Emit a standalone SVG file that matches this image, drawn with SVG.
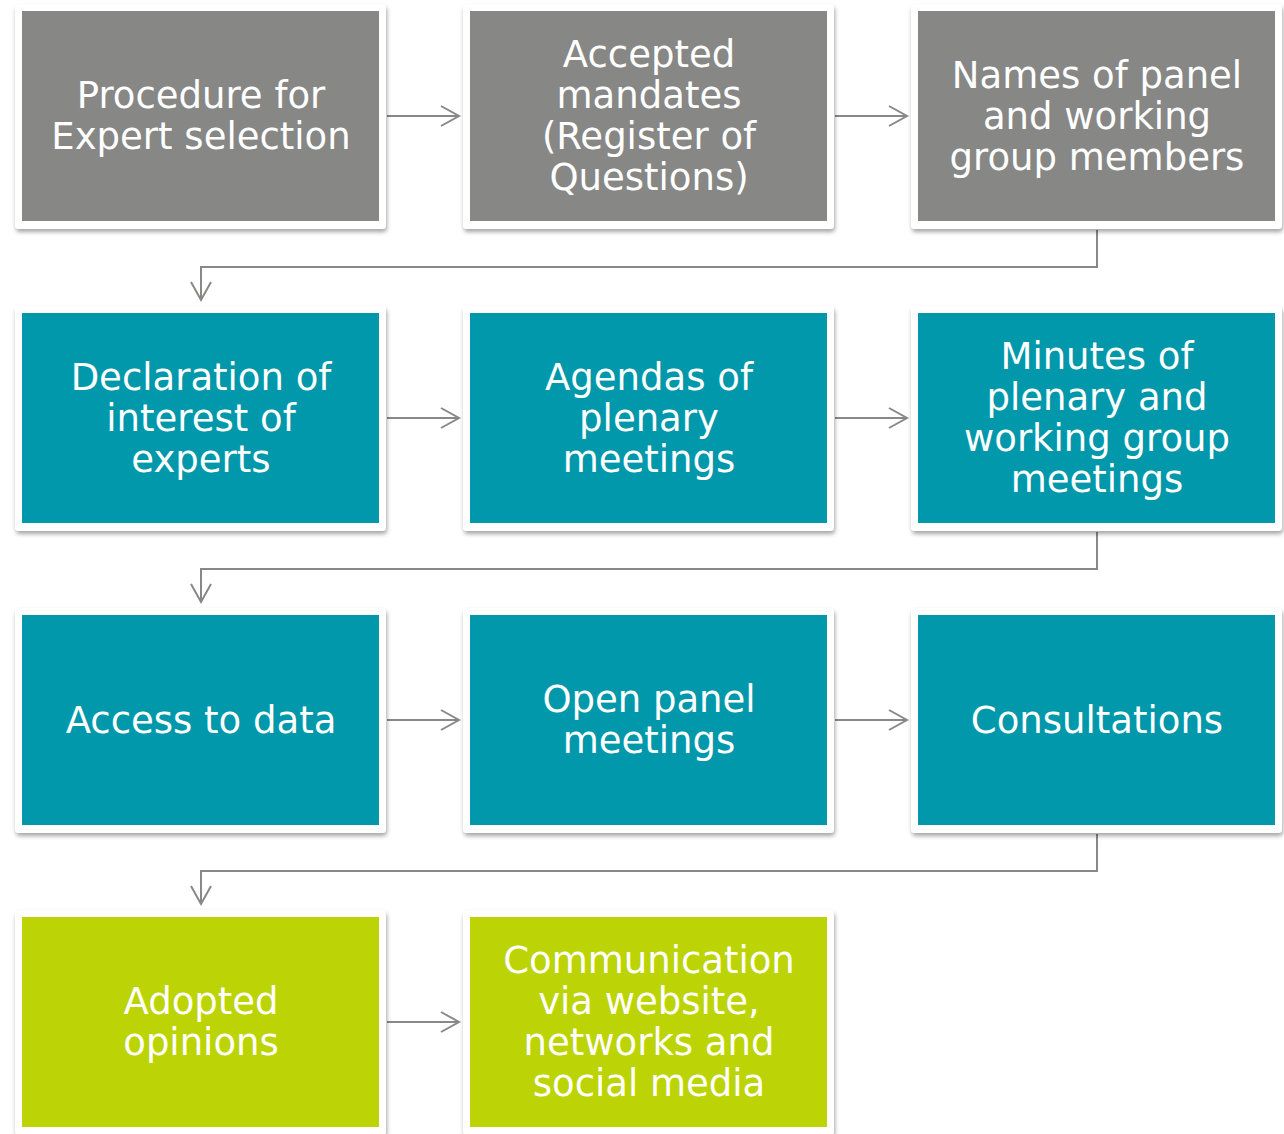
<svg xmlns="http://www.w3.org/2000/svg" width="1284" height="1134" viewBox="0 0 1284 1134">
<defs>
<filter id="sh" x="-5%" y="-5%" width="112%" height="115%">
<feDropShadow dx="1" dy="3" stdDeviation="2" flood-color="#000" flood-opacity="0.35"/>
</filter>
<marker id="ah" markerWidth="24" markerHeight="24" viewBox="-20 -12 24 24" refX="0" refY="0" orient="auto" markerUnits="userSpaceOnUse">
<path d="M-18,-10 L0,0 L-18,10" fill="none" stroke="#888887" stroke-width="2"/>
</marker>
<style>
.card{fill:#fff;filter:url(#sh)}
.g{fill:#878786}
.t{fill:#0098aa}
.l{fill:#bcd405}
text{font-family:"DejaVu Sans","Verdana",sans-serif;font-size:37px;fill:#fff;text-anchor:middle}
.c{fill:none;stroke:#888887;stroke-width:2;marker-end:url(#ah)}
</style>
</defs>
<rect width="1284" height="1134" fill="#fff"/>
<g id="connectors">
<path class="c" d="M387,116 H459"/>
<path class="c" d="M835,116 H907"/>
<path class="c" d="M1097,230 V267 H201 V300"/>
<path class="c" d="M387,418 H459"/>
<path class="c" d="M835,418 H907"/>
<path class="c" d="M1097,532 V569 H201 V602"/>
<path class="c" d="M387,720 H459"/>
<path class="c" d="M835,720 H907"/>
<path class="c" d="M1097,834 V871 H201 V904"/>
<path class="c" d="M387,1022 H459"/>
</g>
<g id="n1"><rect class="card" x="15" y="4" width="371" height="225" rx="4"/><rect class="g" x="22" y="11" width="357" height="210"/>
<text x="201" y="108">Procedure for</text><text x="201" y="149">Expert selection</text></g>
<g id="n2"><rect class="card" x="463" y="4" width="371" height="225" rx="4"/><rect class="g" x="470" y="11" width="357" height="210"/>
<text x="649" y="67">Accepted</text><text x="649" y="108">mandates</text><text x="649" y="149">(Register of</text><text x="649" y="190">Questions)</text></g>
<g id="n3"><rect class="card" x="911" y="4" width="371" height="225" rx="4"/><rect class="g" x="918" y="11" width="357" height="210"/>
<text x="1097" y="88">Names of panel</text><text x="1097" y="129">and working</text><text x="1097" y="170">group members</text></g>

<g id="n4"><rect class="card" x="15" y="306" width="371" height="225" rx="4"/><rect class="t" x="22" y="313" width="357" height="210"/>
<text x="201" y="390">Declaration of</text><text x="201" y="431">interest of</text><text x="201" y="472">experts</text></g>
<g id="n5"><rect class="card" x="463" y="306" width="371" height="225" rx="4"/><rect class="t" x="470" y="313" width="357" height="210"/>
<text x="649" y="390">Agendas of</text><text x="649" y="431">plenary</text><text x="649" y="472">meetings</text></g>
<g id="n6"><rect class="card" x="911" y="306" width="371" height="225" rx="4"/><rect class="t" x="918" y="313" width="357" height="210"/>
<text x="1097" y="369">Minutes of</text><text x="1097" y="410">plenary and</text><text x="1097" y="451">working group</text><text x="1097" y="492">meetings</text></g>

<g id="n7"><rect class="card" x="15" y="608" width="371" height="225" rx="4"/><rect class="t" x="22" y="615" width="357" height="210"/>
<text x="201" y="733">Access to data</text></g>
<g id="n8"><rect class="card" x="463" y="608" width="371" height="225" rx="4"/><rect class="t" x="470" y="615" width="357" height="210"/>
<text x="649" y="712">Open panel</text><text x="649" y="753">meetings</text></g>
<g id="n9"><rect class="card" x="911" y="608" width="371" height="225" rx="4"/><rect class="t" x="918" y="615" width="357" height="210"/>
<text x="1097" y="733">Consultations</text></g>

<g id="n10"><rect class="card" x="15" y="910" width="371" height="225" rx="4"/><rect class="l" x="22" y="917" width="357" height="210"/>
<text x="201" y="1014">Adopted</text><text x="201" y="1055">opinions</text></g>
<g id="n11"><rect class="card" x="463" y="910" width="371" height="225" rx="4"/><rect class="l" x="470" y="917" width="357" height="210"/>
<text x="649" y="973">Communication</text><text x="649" y="1014">via website,</text><text x="649" y="1055">networks and</text><text x="649" y="1096">social media</text></g>
</svg>
